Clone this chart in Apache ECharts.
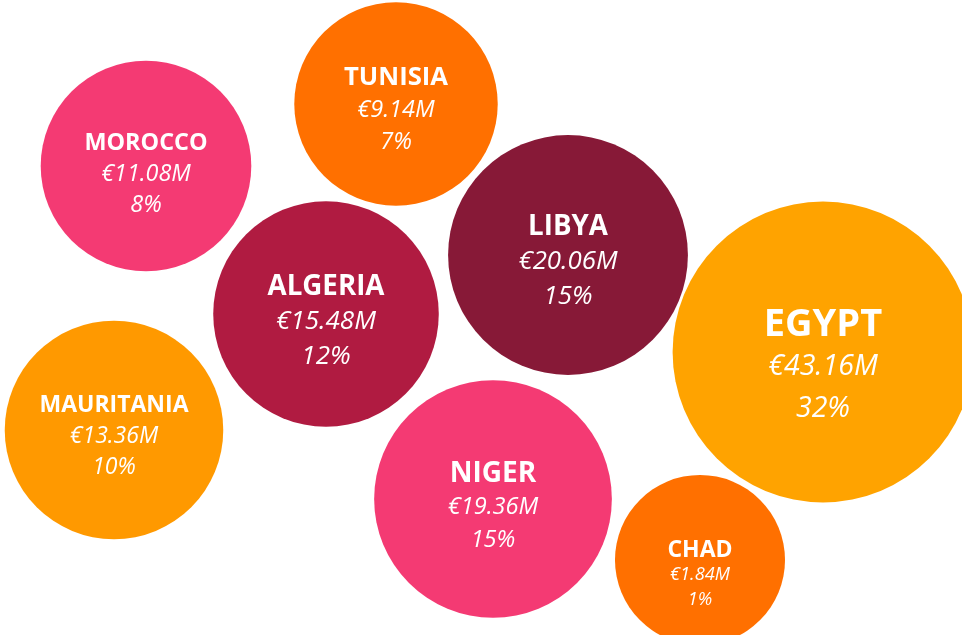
<!DOCTYPE html>
<html>
<head>
<meta charset="utf-8">
<script src="https://cdn.jsdelivr.net/npm/echarts@6/dist/echarts.min.js"></script>
<style>
  html, body { margin: 0; padding: 0; background: #fff; }
  #chart { width: 962px; height: 635px; }
</style>
</head>
<body>
<div id="chart"></div>
<script>
const countries = ['MOROCCO', 'TUNISIA', 'ALGERIA', 'LIBYA', 'EGYPT', 'MAURITANIA', 'NIGER', 'CHAD']
const funding = [11.08, 9.14, 15.48, 20.06, 43.16, 13.36, 19.36, 1.84] // €M
// bubble layout coordinates (abstract 962 x 635 plane)
const layoutX = [146, 396, 326, 568, 823, 114, 493, 700]
const layoutY = [166, 104, 314, 255, 352, 430, 499, 560]

const colors = {
  MOROCCO: '#f43a73',
  TUNISIA: '#ff7000',
  ALGERIA: '#b01b41',
  LIBYA: '#871937',
  EGYPT: '#ffa300',
  MAURITANIA: '#ff9900',
  NIGER: '#f43a73',
  CHAD: '#ff7000',
}
// label styles: [name font, value font, line height, vertical shift]
const labelStyle = {
  MOROCCO: [23.4, 23.3, 31, 8],
  TUNISIA: [25.7, 23.5, 32, 6],
  ALGERIA: [27.7, 26, 35, 8],
  LIBYA: [27.7, 25.8, 35, 7],
  EGYPT: [38, 28.5, 41.5, 15],
  MAURITANIA: [23, 23, 31, 6],
  NIGER: [28, 23.6, 33, 8],
  CHAD: [23, 18.2, 25, 15],
}

const total = funding.reduce((a, b) => a + b, 0)

const seriesData = countries.map((c, i) => {
  const s = labelStyle[c]
  return {
    name: c,
    value: [layoutX[i], layoutY[i], funding[i]],
    itemStyle: { color: colors[c], opacity: 1 },
    label: {
      offset: [0, s[3]],
      rich: {
        n: { fontFamily: 'Open Sans', fontWeight: 700, fontSize: s[0], color: '#fff', lineHeight: s[2] },
        v: { fontFamily: 'Open Sans', fontStyle: 'italic', fontSize: s[1], color: '#fff', lineHeight: s[2] },
      },
    },
  }
})

const options = {
  animation: false,
  backgroundColor: '#fff',
  grid: { left: 0, right: 0, top: 0, bottom: 0 },
  xAxis: { type: 'value', min: 0, max: 962, show: false },
  yAxis: { type: 'value', min: 0, max: 635, inverse: true, show: false },
  series: [
    {
      type: 'scatter',
      data: seriesData,
      symbol: 'circle',
      symbolSize: val => 153.9 + 10.53 * Math.pow(val[2], 0.7), // bubble grows with funding
      label: {
        show: true,
        position: 'inside',
        formatter: p => {
          const pct = Math.round((p.value[2] / total) * 100)
          return '{n|' + p.name + '}\n{v|€' + p.value[2].toFixed(2) + 'M}\n{v|' + pct + '%}'
        },
      },
      emphasis: { disabled: true },
    },
  ],
}

const chart = echarts.init(document.getElementById('chart'))
chart.setOption(options)
window.onresize = function () {
  chart.resize()
}
</script>
</body>
</html>
